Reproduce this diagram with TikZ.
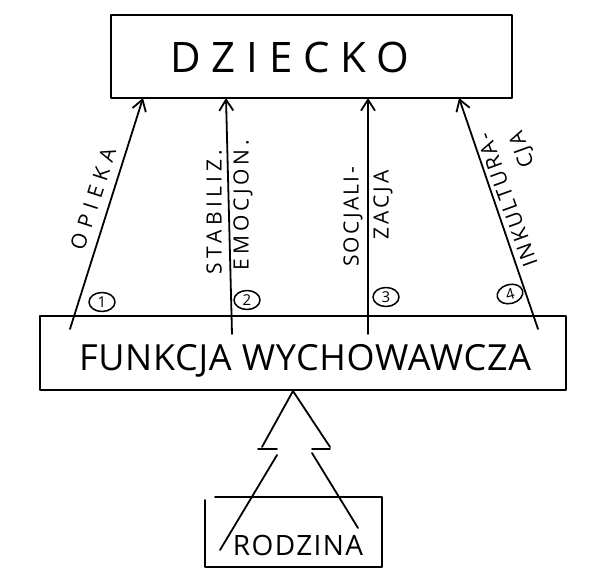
\documentclass[tikz,border=0pt]{standalone}
\usepackage{fontspec}
\usepackage{graphicx}
\newfontfamily\hand{Open Sans}
\usetikzlibrary{arrows.meta,shapes.geometric}
\tikzset{
  pen/.style={line width=1.8pt, line cap=round, line join=round},
  arr/.style={pen, -{Straight Barb[length=11pt,width=14pt,line width=1.8pt]}},
  lbl/.style={inner sep=0pt, text depth=0pt},
  big/.style={lbl, font={\hand\fontsize{42}{42}\selectfont\addfontfeature{LetterSpace=26}}},
  mid/.style={lbl, font={\hand\fontsize{36}{36}\selectfont\addfontfeature{LetterSpace=2}}},
  fam/.style={lbl, font={\hand\fontsize{28}{28}\selectfont\addfontfeature{LetterSpace=5}}},
  side/.style={lbl, font={\hand\fontsize{21}{21}\selectfont\addfontfeature{LetterSpace=#1}}},
  num/.style={pen, line width=1.5pt, draw, ellipse, inner sep=0pt, minimum width=26pt, minimum height=19pt,
    font={\hand\fontsize{15}{15}\selectfont}},
}
\begin{document}
\begin{tikzpicture}[x=1pt, y=-1pt]
\useasboundingbox (0,0) rectangle (591,570);
\fill[white] (0,0) rectangle (591,570);

% boxes
\node[pen, draw, rectangle, inner sep=0pt, minimum width=401pt, minimum height=83pt] (dzbox) at (311.5,56.5) {};
\node[pen, draw, rectangle, inner sep=0pt, minimum width=526pt, minimum height=74pt] (fwbox) at (303,353) {};
\node[big] (dziecko) at (290,57) {DZIECKO};
\node[mid] (funkcja) at (305,357.5) {FUNKCJA WYCHOWAWCZA};

% arrow ends
\coordinate (s1) at (70,329);  \coordinate (t1) at (143,98);
\coordinate (s2) at (232,334); \coordinate (t2) at (226,98);
\coordinate (s3) at (368,334); \coordinate (t3) at (368,98);
\coordinate (s4) at (538,329); \coordinate (t4) at (459,98);
\draw[arr] (s1) -- (t1);
\draw[arr] (s2) -- (t2);
\draw[arr] (s3) -- (t3);
\draw[arr] (s4) -- (t4);

% arrow labels
\node[side=31, rotate=72] (opieka) at (93,199) {OPIEKA};
\node[side=21, rotate=90] (stab) at (214,212) {STABILIZ.};
\node[side=18, rotate=90] (emoc) at (241,205) {EMOCJON.};
\node[side=11, rotate=90] (socj) at (351,217) {SOCJALI-};
\node[side=15, rotate=90] (zacja) at (381,205) {ZACJA};
\node[side=11, rotate=110] (inkul) at (507,200) {INKULTURA-};
\node[side=10, rotate=110] (cja) at (521,150) {CJA};

% numbers
\node[num] (n1) at (102,302) {1};
\node[num] (n2) at (247,300) {2};
\node[num] (n3) at (386,297) {3};
\node[num, rotate=15] (n4) at (510,294) {4};

% tree arrow from RODZINA
\coordinate (apex) at (293,391);
\draw[pen] (262,447) -- (apex) -- (330,447);
\draw[pen] (258,449) -- (277,449);
\draw[pen] (312,449) -- (330,449);
\draw[pen] (277,455) -- (220,550);
\draw[pen] (312,453) -- (358,528);

% RODZINA box
\draw[pen] (215,497) -- (382,497) -- (382,567) -- (205,567) -- (205,500);
\node[fam] (rodzina) at (298,545) {RODZINA};
\end{tikzpicture}
\end{document}
